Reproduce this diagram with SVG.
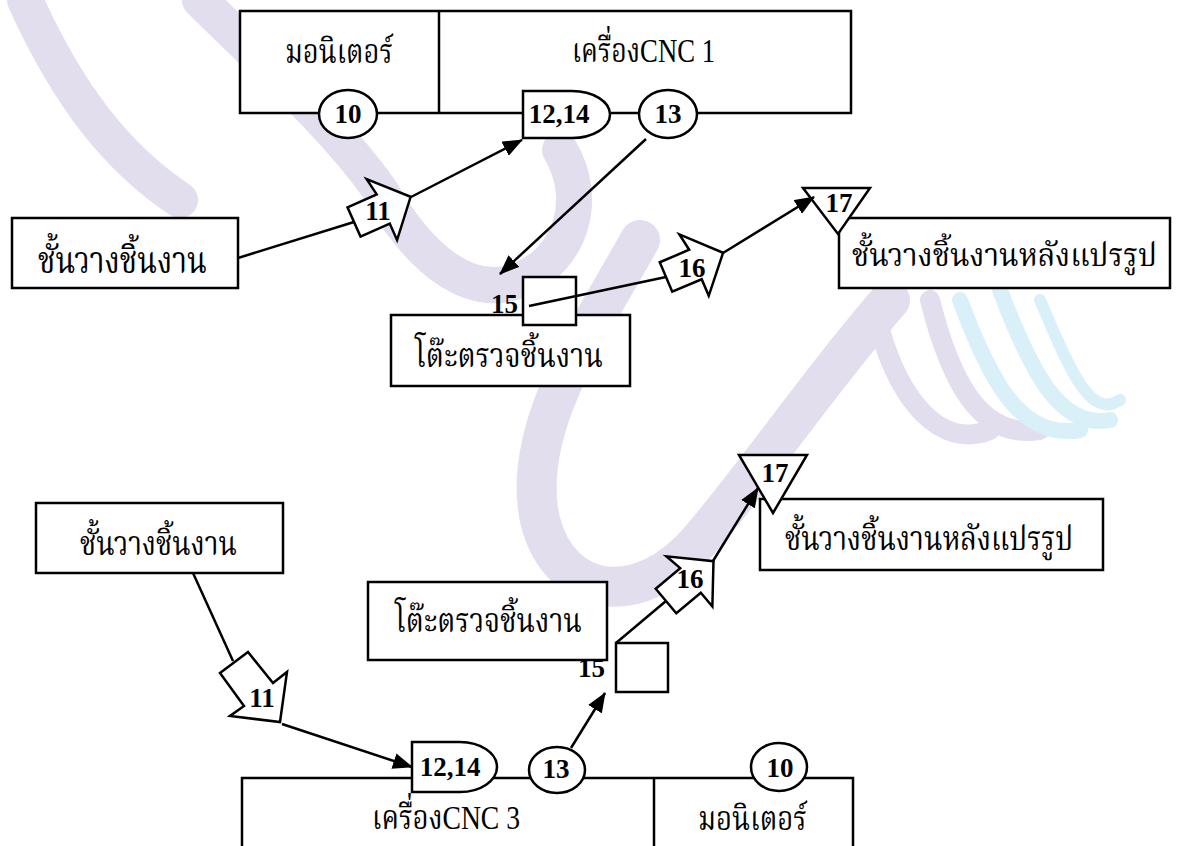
<svg xmlns="http://www.w3.org/2000/svg" width="1181" height="846" viewBox="0 0 1181 846">
<style>
.bx{fill:#fff;stroke:#000;stroke-width:2.5}
.ln{fill:none;stroke:#000;stroke-width:2.5}
.th{font-family:"Liberation Serif","Noto Serif Thai","Noto Sans Thai","DejaVu Serif",serif;font-size:34px;fill:#000}
.num{font-family:"Liberation Serif",serif;font-size:27px;font-weight:bold;fill:#000;text-anchor:middle}
.wmp{fill:none;stroke:#e3deed;stroke-linecap:round}
.wmb{fill:none;stroke:#daf0f8;stroke-linecap:round}
</style>
<defs>
<marker id="ah" markerUnits="userSpaceOnUse" markerWidth="20" markerHeight="16" refX="19" refY="8" orient="auto">
<path d="M0,0 L20,8 L0,16 Z" fill="#000"/>
</marker>
<polygon id="blk" points="0,-16 32,-16 29,-34 62,0 32,34 32,16 0,16"/>
</defs>
<rect width="1181" height="846" fill="#fff"/>
<g id="watermark">
<path class="wmp" stroke-width="36" d="M25,0 C70,100 120,160 180,200"/>
<path class="wmp" stroke-width="36" d="M200,0 C260,60 330,120 380,190 C420,260 470,300 520,280 C570,260 590,200 560,150"/>
<path class="wmp" stroke-width="40" d="M640,240 C590,330 520,430 540,520 C560,600 640,610 700,540 C760,470 820,380 890,300"/>
<path class="wmp" stroke-width="20" d="M880,330 C900,400 940,450 990,430"/>
<path class="wmp" stroke-width="20" d="M930,300 C950,380 980,440 1040,430"/>
<path class="wmb" stroke-width="16" d="M960,300 C990,380 1020,440 1080,430"/>
<path class="wmb" stroke-width="16" d="M1000,290 C1030,370 1060,430 1110,420"/>
<path class="wmb" stroke-width="12" d="M1040,300 C1070,370 1090,420 1120,400"/>
</g>
<g id="cnc1">
<rect class="bx" x="240" y="11" width="611" height="102"/>
<line class="ln" x1="439" y1="11" x2="439" y2="113"/>
<text class="th" x="285" y="63" textLength="108" lengthAdjust="spacingAndGlyphs">มอนิเตอร์</text>
<text class="th" x="572" y="62" textLength="143" lengthAdjust="spacingAndGlyphs">เครื่องCNC 1</text>
</g>
<g id="t10"><ellipse class="bx" cx="348" cy="114" rx="29" ry="24"/><text class="num" x="348" y="123">10</text></g>
<g id="t1214"><path class="bx" d="M523,91 H572 A38,23.5 0 0 1 572,138 H523 Z"/><text class="num" x="559" y="123">12,14</text></g>
<g id="t13"><ellipse class="bx" cx="668" cy="114" rx="29" ry="24"/><text class="num" x="668" y="123">13</text></g>
<g id="shelf1"><rect class="bx" x="12" y="218" width="226" height="70"/><text class="th" x="38" y="273" style="font-size:38px" textLength="169" lengthAdjust="spacingAndGlyphs">ชั้นวางชิ้นงาน</text></g>
<g id="table1"><rect class="bx" x="391" y="315" width="239" height="71"/><text class="th" x="415" y="367" textLength="188" lengthAdjust="spacingAndGlyphs">โต๊ะตรวจชิ้นงาน</text></g>
<g id="t15"><rect class="bx" x="523" y="277" width="53" height="48"/><text class="num" x="518" y="313" style="text-anchor:end">15</text></g>
<g id="after1"><rect class="bx" x="839" y="218" width="331" height="70"/><text class="th" x="852" y="266" style="font-size:32px" textLength="305" lengthAdjust="spacingAndGlyphs">ชั้นวางชิ้นงานหลังแปรรูป</text></g>
<g id="t17"><polygon class="bx" points="803,188 870,188 838,234"/><text class="num" x="839" y="212">17</text></g>
<g id="t11"><use href="#blk" class="bx" transform="translate(354,222) rotate(-24)"/><text class="num" x="378" y="220">11</text></g>
<g id="t16"><use href="#blk" class="bx" transform="translate(666,277) rotate(-23)"/><text class="num" x="692" y="277">16</text></g>

<g id="cnc3">
<rect class="bx" x="242" y="778" width="611" height="80"/>
<line class="ln" x1="654" y1="778" x2="654" y2="846"/>
<text class="th" x="372" y="829" textLength="148" lengthAdjust="spacingAndGlyphs">เครื่องCNC 3</text>
<text class="th" x="698" y="830" textLength="109" lengthAdjust="spacingAndGlyphs">มอนิเตอร์</text>
</g>
<g id="b1214"><path class="bx" d="M412,742 H460 A37,25 0 0 1 460,792 H412 Z"/><text class="num" x="450" y="776">12,14</text></g>
<g id="b13"><ellipse class="bx" cx="557" cy="770" rx="28" ry="23"/><text class="num" x="556" y="778">13</text></g>
<g id="b10"><ellipse class="bx" cx="779" cy="767" rx="28" ry="24"/><text class="num" x="780" y="777">10</text></g>
<g id="shelf3"><rect class="bx" x="36" y="503" width="247" height="70"/><text class="th" x="80" y="555" textLength="157" lengthAdjust="spacingAndGlyphs">ชั้นวางชิ้นงาน</text></g>
<g id="table3"><rect class="bx" x="368" y="582" width="239" height="78"/><text class="th" x="395" y="632" textLength="187" lengthAdjust="spacingAndGlyphs">โต๊ะตรวจชิ้นงาน</text></g>
<g id="b15"><rect class="bx" x="616" y="643" width="52" height="49"/><text class="num" x="605" y="677" style="text-anchor:end">15</text></g>
<g id="after3"><rect class="bx" x="760" y="499" width="343" height="71"/><text class="th" x="785" y="550" textLength="288" lengthAdjust="spacingAndGlyphs">ชั้นวางชิ้นงานหลังแปรรูป</text></g>
<g id="b17"><polygon class="bx" points="739,455 807,455 773,513"/><text class="num" x="775" y="482">17</text></g>
<g id="b11"><polygon class="bx" points="248,652 273,683 287,672 280,722 230,716 244,706 220,673"/><text class="num" x="262" y="707">11</text></g>
<g id="b16"><use href="#blk" class="bx" transform="translate(666,601) rotate(-40)"/><text class="num" x="690" y="588">16</text></g>

<g id="connectors">
<line class="ln" x1="238" y1="258" x2="354" y2="222"/>
<line class="ln" x1="411" y1="197" x2="522" y2="140" marker-end="url(#ah)"/>
<line class="ln" x1="646" y1="139" x2="500" y2="274" marker-end="url(#ah)"/>
<line class="ln" x1="529" y1="306" x2="666" y2="277"/>
<line class="ln" x1="723" y1="253" x2="814" y2="197" marker-end="url(#ah)"/>
<line class="ln" x1="193" y1="573" x2="233" y2="661"/>
<line class="ln" x1="282" y1="724" x2="412" y2="767" marker-end="url(#ah)"/>
<line class="ln" x1="571" y1="748" x2="605" y2="693" marker-end="url(#ah)"/>
<line class="ln" x1="616" y1="643" x2="666" y2="601"/>
<line class="ln" x1="713" y1="561" x2="758" y2="488" marker-end="url(#ah)"/>
</g>
</svg>
